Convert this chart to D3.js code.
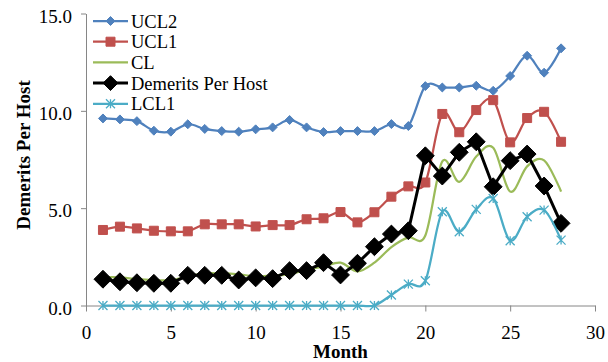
<!DOCTYPE html>
<html>
<head>
<meta charset="utf-8">
<script src="https://cdnjs.cloudflare.com/ajax/libs/d3/7.8.5/d3.min.js"></script>
<style>
  body { margin: 0; background: #fff; }
  svg { display: block; font-family: "Liberation Serif", "Times New Roman", serif; }
</style>
</head>
<body>
<svg id="chart" width="608" height="362"></svg>
<script>
// months 1..28
var months = d3.range(1, 29);

var ucl2 = [9.61, 9.56, 9.47, 8.98, 8.93, 9.31, 9.07, 8.96, 8.93, 9.05,
            9.15, 9.53, 9.15, 8.91, 8.96, 8.96, 8.96, 9.32, 9.22, 11.27,
            11.2, 11.2, 11.29, 11.03, 11.79, 12.83, 11.96, 13.21];
var ucl1 = [3.88, 4.05, 3.96, 3.84, 3.81, 3.81, 4.17, 4.17, 4.17, 4.06,
            4.13, 4.13, 4.43, 4.48, 4.8, 4.27, 4.79, 5.59, 6.12, 6.32,
            9.84, 8.9, 10.04, 10.55, 8.38, 9.63, 9.95, 8.41];
var cl = [1.45, 1.45, 1.35, 1.3, 1.3, 1.5, 1.65, 1.65, 1.6, 1.5,
          1.55, 1.6, 1.85, 2.0, 2.2, 1.75, 2.2, 3.0, 3.5, 3.6,
          7.4, 6.35, 7.65, 8.1, 5.85, 7.15, 7.45, 5.85];
var demerits = [1.35, 1.22, 1.17, 1.14, 1.14, 1.55, 1.55, 1.55, 1.31, 1.42,
                1.38, 1.79, 1.79, 2.2, 1.57, 2.17, 3.02, 3.67, 3.84, 7.69,
                6.65, 7.87, 8.41, 6.1, 7.44, 7.78, 6.14, 4.22];
var lcl1 = [0, 0, 0, 0, 0, 0, 0, 0, 0, 0,
            0, 0, 0, 0, 0, 0, 0, 0.54, 1.1, 1.27,
            4.82, 3.79, 4.94, 5.5, 3.33, 4.56, 4.9, 3.36];

var xTicks = [0, 5, 10, 15, 20, 25, 30];
var yTicks = [0, 5, 10, 15];

var series = [
  {name: "UCL2", values: ucl2, color: "#4F81BD", width: 2.25, smooth: true, marker: "diamond", msize: 40},
  {name: "UCL1", values: ucl1, color: "#C0504D", width: 2.25, smooth: true, marker: "square", msize: 81},
  {name: "CL", values: cl, color: "#9BBB59", width: 2.25, smooth: true, marker: "none"},
  {name: "Demerits Per Host", values: demerits, color: "#000000", width: 3, smooth: false, marker: "diamond", msize: 160},
  {name: "LCL1", values: lcl1, color: "#4BACC6", width: 2.25, smooth: true, marker: "star", msize: 4.5}
];

var svg = d3.select("#chart");

var x = d3.scaleLinear().domain([0, 30]).range([86, 595]);
var y = d3.scaleLinear().domain([0, 15]).range([305.5, 13.5]);

var axisColor = "#868686";

// y axis
var yAxis = d3.axisLeft(y)
  .tickValues(yTicks)
  .tickFormat(d3.format(".1f"))
  .tickSizeInner(5)
  .tickSizeOuter(0)
  .tickPadding(9);

var gy = svg.append("g")
  .attr("transform", "translate(" + x(0) + ",0)")
  .call(yAxis);
gy.select(".domain").attr("stroke", axisColor).attr("stroke-width", 1);
gy.selectAll(".tick line").attr("stroke", axisColor);
gy.selectAll(".tick text")
  .attr("font-family", "Liberation Serif")
  .attr("font-size", 19)
  .attr("fill", "#000")
  .attr("dy", "0.45em");

// x axis
var xAxis = d3.axisBottom(x)
  .tickValues(xTicks)
  .tickSizeInner(6)
  .tickSizeOuter(0)
  .tickPadding(14);

var gx = svg.append("g")
  .attr("transform", "translate(0," + y(0) + ")")
  .call(xAxis);
gx.select(".domain").attr("stroke", axisColor).attr("stroke-width", 1);
gx.selectAll(".tick line").attr("stroke", axisColor);
gx.selectAll(".tick text")
  .attr("font-family", "Liberation Serif")
  .attr("font-size", 19)
  .attr("fill", "#000");

// markers
function markerPath(type, s) {
  if (type === "diamond") {
    var r = Math.sqrt(s) / Math.SQRT2;
    return "M0," + (-r) + "L" + r + ",0L0," + r + "L" + (-r) + ",0Z";
  }
  if (type === "square") {
    var h = Math.sqrt(s) / 2;
    return "M" + (-h) + "," + (-h) + "H" + h + "V" + h + "H" + (-h) + "Z";
  }
  if (type === "star") {
    var a = s;
    return "M" + (-a) + "," + (-a) + "L" + a + "," + a +
      "M" + (-a) + "," + a + "L" + a + "," + (-a) +
      "M0," + (-a) + "L0," + a;
  }
  return "";
}

var plot = svg.append("g");

series.forEach(function(s) {
  var line = d3.line()
    .x(function(d, i) { return x(months[i]); })
    .y(function(d) { return y(d); })
    .curve(s.smooth ? d3.curveCardinal.tension(0) : d3.curveLinear);

  var g = plot.append("g");

  g.append("path")
    .datum(s.values)
    .attr("fill", "none")
    .attr("stroke", s.color)
    .attr("stroke-width", s.width)
    .attr("stroke-linejoin", "round")
    .attr("d", line);

  if (s.marker !== "none") {
    g.selectAll("path.mk")
      .data(s.values)
      .enter().append("path")
      .attr("class", "mk")
      .attr("transform", function(d, i) { return "translate(" + x(months[i]) + "," + y(d) + ")"; })
      .attr("d", markerPath(s.marker, s.msize))
      .attr("fill", s.marker === "star" ? "none" : s.color)
      .attr("stroke", s.color)
      .attr("stroke-width", s.marker === "star" ? 1.3 : 1);
  }
});

// legend
var legend = svg.append("g").attr("class", "legend");
legend.selectAll("g")
  .data(series)
  .enter().append("g")
  .each(function(s, i) {
    var g = d3.select(this);
    var ly = 21 + i * 20.7;
    g.append("line")
      .attr("x1", 93).attr("x2", 128)
      .attr("y1", ly).attr("y2", ly)
      .attr("stroke", s.color)
      .attr("stroke-width", s.width);
    if (s.marker !== "none") {
      var sz = s.marker === "diamond" && s.msize > 100 ? 110 : s.msize;
      g.append("path")
        .attr("transform", "translate(110.5," + ly + ")")
        .attr("d", markerPath(s.marker, sz))
        .attr("fill", s.marker === "star" ? "none" : s.color)
        .attr("stroke", s.color)
        .attr("stroke-width", s.marker === "star" ? 1.3 : 1);
    }
    g.append("text")
      .attr("x", 131)
      .attr("y", ly + 6.5)
      .attr("font-size", 18.5)
      .attr("fill", "#000")
      .text(s.name);
  });

// axis titles
svg.append("text")
  .attr("transform", "translate(29.5,155) rotate(-90)")
  .attr("text-anchor", "middle")
  .attr("font-weight", "bold")
  .attr("font-size", 19)
  .text("Demerits Per Host");

svg.append("text")
  .attr("x", (x(0) + x(30)) / 2)
  .attr("y", 358)
  .attr("text-anchor", "middle")
  .attr("font-weight", "bold")
  .attr("font-size", 19)
  .text("Month");
</script>
</body>
</html>
